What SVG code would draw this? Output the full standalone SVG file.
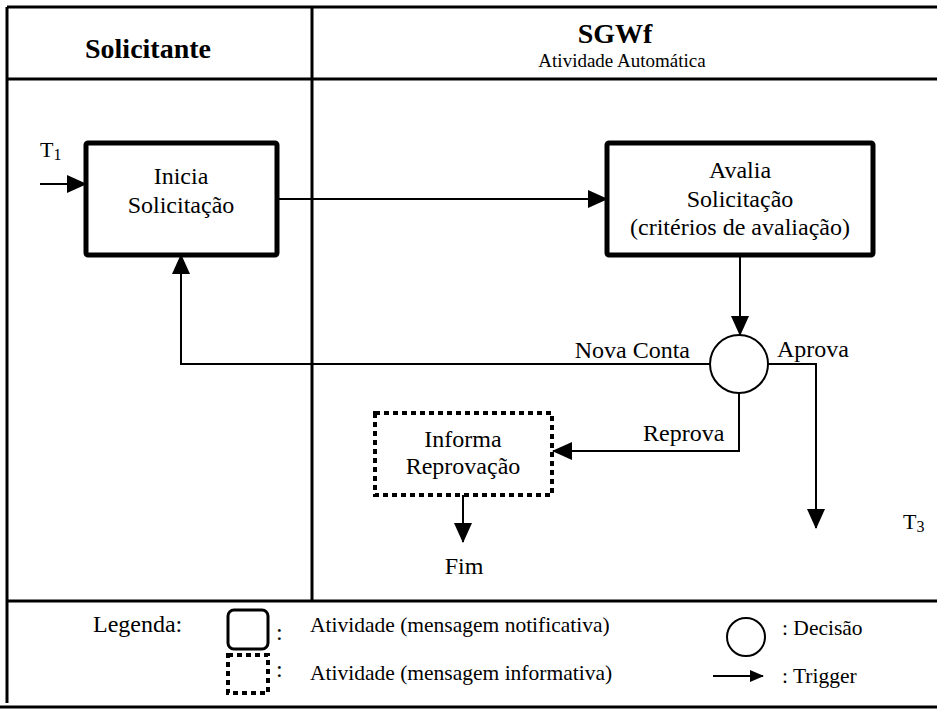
<svg xmlns="http://www.w3.org/2000/svg" width="937" height="711" viewBox="0 0 937 711">
  <style>
    text { font-family: "Liberation Serif", "Times New Roman", serif; fill: #000; }
    .t { font-size: 24px; }
    .c { text-anchor: middle; }
    .h { font-size: 28px; font-weight: bold; }
    .lg { font-size: 21.5px; }
    .frame { stroke: #000; stroke-width: 3; fill: none; }
    .act { fill: #fff; stroke: #000; stroke-width: 5; }
    .inf { fill: #fff; stroke: #000; stroke-width: 4; stroke-dasharray: 5 4; }
    .dec { fill: #fff; stroke: #000; stroke-width: 2; }
    .con { stroke: #000; stroke-width: 2; fill: none; }
  </style>
  <defs>
    <marker id="arr" markerUnits="userSpaceOnUse" markerWidth="20" markerHeight="18" refX="19" refY="9" orient="auto">
      <path d="M0,0 L20,9 L0,18 Z" fill="#000"/>
    </marker>
    <marker id="arrS" markerUnits="userSpaceOnUse" markerWidth="14" markerHeight="12" refX="13" refY="6" orient="auto">
      <path d="M0,0 L14,6 L0,12 Z" fill="#000"/>
    </marker>
  </defs>
  <rect width="937" height="711" fill="#fff"/>

  <!-- swimlane frame -->
  <g id="frame">
    <line class="frame" x1="7" y1="7" x2="937" y2="7"/>
    <line class="frame" x1="7" y1="79" x2="937" y2="79"/>
    <line class="frame" x1="7" y1="7" x2="7" y2="703"/>
    <line class="frame" x1="312" y1="7" x2="312" y2="601"/>
    <line class="frame" x1="7" y1="601" x2="937" y2="601"/>
    <line class="frame" x1="0" y1="707" x2="937" y2="707"/>
    <text class="h c" x="148" y="58">Solicitante</text>
    <text class="h c" x="615" y="43">SGWf</text>
    <text class="c" x="622" y="67" font-size="19">Atividade Automática</text>
  </g>

  <!-- connectors -->
  <g id="connectors">
    <line class="con" x1="40" y1="184" x2="86" y2="184" marker-end="url(#arr)"/>
    <line class="con" x1="277" y1="199" x2="607" y2="199" marker-end="url(#arr)"/>
    <line class="con" x1="740" y1="255" x2="740" y2="335" marker-end="url(#arr)"/>
    <path class="con" d="M710,364 H181 V255" marker-end="url(#arr)"/>
    <path class="con" d="M768,364 H816 V528" marker-end="url(#arr)"/>
    <path class="con" d="M739,393 V451 H553" marker-end="url(#arr)"/>
    <line class="con" x1="463" y1="495" x2="463" y2="542" marker-end="url(#arr)"/>
    <text class="t" x="690" y="358" text-anchor="end">Nova Conta</text>
    <text class="t" x="777" y="357">Aprova</text>
    <text class="t" x="643" y="441">Reprova</text>
    <text x="40" y="157" font-size="22">T<tspan font-size="16" dy="3">1</tspan></text>
    <text x="903" y="529" font-size="22">T<tspan font-size="16" dy="3">3</tspan></text>
    <text class="t c" x="464" y="574">Fim</text>
  </g>

  <g id="inicia">
    <rect class="act" x="86" y="143" width="191" height="112" rx="2"/>
    <text class="t c" x="181" y="184">Inicia</text>
    <text class="t c" x="181" y="213">Solicitação</text>
  </g>

  <g id="avalia">
    <rect class="act" x="607" y="143" width="266" height="112" rx="2"/>
    <text class="t c" x="740" y="178">Avalia</text>
    <text class="t c" x="740" y="207">Solicitação</text>
    <text class="t c" x="740" y="235">(critérios de avaliação)</text>
  </g>

  <g id="decisao">
    <circle class="dec" cx="739" cy="364" r="29"/>
  </g>

  <g id="informa">
    <rect class="inf" x="375" y="413" width="177" height="82"/>
    <text class="t c" x="463" y="447">Informa</text>
    <text class="t c" x="463" y="474">Reprovação</text>
  </g>

  <!-- legend -->
  <g id="legenda">
    <text class="t" x="93" y="632">Legenda:</text>
    <rect x="228" y="610" width="40" height="39" rx="6" fill="#fff" stroke="#000" stroke-width="3"/>
    <text class="t" x="276" y="640">:</text>
    <text class="lg" x="310" y="632">Atividade (mensagem notificativa)</text>
    <rect x="228" y="655" width="40" height="38" fill="#fff" stroke="#000" stroke-width="4" stroke-dasharray="5 4"/>
    <text class="t" x="276" y="677">:</text>
    <text class="lg" x="310" y="680">Atividade (mensagem informativa)</text>
    <circle cx="746" cy="637" r="19" fill="#fff" stroke="#000" stroke-width="2"/>
    <text class="lg" x="782" y="635">: Decisão</text>
    <line class="con" x1="713" y1="676" x2="763" y2="676" marker-end="url(#arrS)"/>
    <text class="lg" x="782" y="683">: Trigger</text>
  </g>
</svg>
